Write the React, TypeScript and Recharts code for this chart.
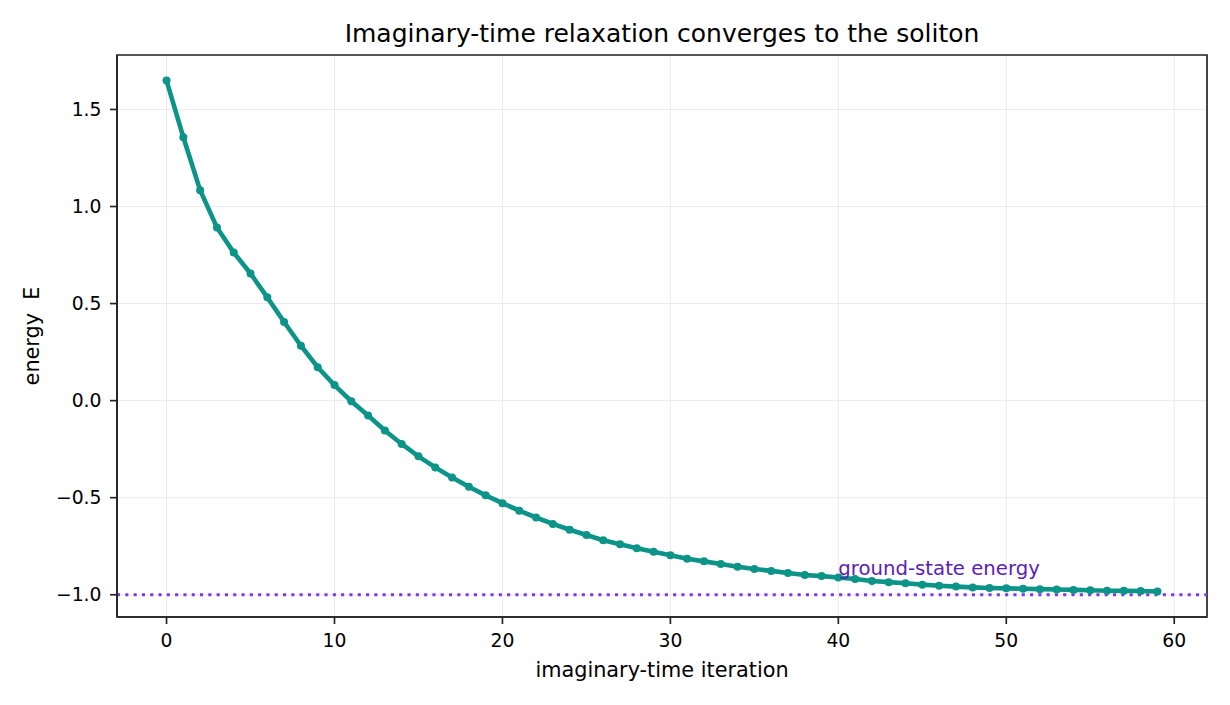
import React from 'react';
import {
  ComposedChart,
  Line,
  XAxis,
  YAxis,
  CartesianGrid,
  ReferenceLine,
  ReferenceDot,
  ReferenceArea,
} from 'recharts';

const iterations = Array.from({ length: 60 }, (_, i) => i);

// energy, one value per iteration
const energies = [
  1.649, 1.357, 1.084, 0.892, 0.763, 0.655, 0.532, 0.405, 0.283, 0.172,
  0.08, -0.003, -0.077, -0.154, -0.223, -0.287, -0.344, -0.396, -0.444, -0.488,
  -0.528, -0.567, -0.602, -0.635, -0.665, -0.692, -0.719, -0.74, -0.76, -0.779,
  -0.797, -0.814, -0.828, -0.842, -0.856, -0.867, -0.877, -0.888, -0.898, -0.904,
  -0.911, -0.919, -0.929, -0.935, -0.941, -0.948, -0.954, -0.958, -0.962, -0.965,
  -0.967, -0.969, -0.971, -0.973, -0.975, -0.977, -0.979, -0.98, -0.981, -0.983,
];

const groundEnergy = -1.0;
const xTicks = [0, 10, 20, 30, 40, 50, 60];
const yTicks = [-1.0, -0.5, 0.0, 0.5, 1.0, 1.5];
const xDomain: [number, number] = [-2.95, 61.95];
const yDomain: [number, number] = [-1.1146, 1.7806];

const data = iterations.map((it, i) => ({ iter: it, energy: energies[i] }));

const FONT = '"DejaVu Sans", sans-serif';
const TEAL = '#0d9488';
const SPINE = '#222222';

const fmtY = (v: number) => (v < 0 ? '\u2212' + Math.abs(v).toFixed(1) : v.toFixed(1));

export default function App() {
  return (
    <div style={{ position: 'absolute', left: 0, top: 0, width: 1230, height: 705, background: '#fff' }}>
      <ComposedChart
        width={1230}
        height={705}
        data={data}
        margin={{ top: 55, right: 23, bottom: 0, left: 0 }}
      >
        <CartesianGrid stroke="#ebebeb" strokeWidth={1} />
        <XAxis
          dataKey="iter"
          type="number"
          domain={xDomain}
          ticks={xTicks}
          allowDataOverflow
          height={88}
          tickSize={7}
          tickMargin={10}
          axisLine={{ stroke: SPINE, strokeWidth: 1.67 }}
          tickLine={{ stroke: SPINE, strokeWidth: 1.67 }}
          tick={{ fill: '#000', fontSize: 18.75, fontFamily: FONT }}
        />
        <YAxis
          type="number"
          domain={yDomain}
          ticks={yTicks}
          allowDataOverflow
          width={117}
          tickSize={7}
          tickMargin={8.5}
          tickFormatter={fmtY}
          axisLine={{ stroke: SPINE, strokeWidth: 1.67 }}
          tickLine={{ stroke: SPINE, strokeWidth: 1.67 }}
          tick={{ fill: '#000', fontSize: 18.75, fontFamily: FONT }}
        />
        <ReferenceLine
          y={groundEnergy}
          stroke="#7c3aed"
          strokeWidth={3.1}
          strokeDasharray="3.1 5.2"
        />
        <Line
          type="linear"
          dataKey="energy"
          stroke={TEAL}
          strokeWidth={4.6}
          dot={{ r: 4, fill: TEAL, stroke: 'none' }}
          isAnimationActive={false}
        />
        <ReferenceDot
          x={40}
          y={-0.9}
          r={0}
          shape={(p: any) => (
            <text x={p.cx} y={p.cy} fill="#5b21b6" fontSize={19.7} fontFamily={FONT}>
              ground-state energy
            </text>
          )}
        />
        <ReferenceArea
          x1={xDomain[0]}
          x2={xDomain[1]}
          y1={yDomain[0]}
          y2={yDomain[1]}
          fill="none"
          fillOpacity={0}
          stroke={SPINE}
          strokeWidth={1.67}
        />
      </ComposedChart>
      <svg
        width={1230}
        height={705}
        style={{ position: 'absolute', left: 0, top: 0, pointerEvents: 'none' }}
      >
        <text x={662} y={42} textAnchor="middle" fontSize={25} fontFamily={FONT} fill="#000">
          Imaginary-time relaxation converges to the soliton
        </text>
        <text x={662} y={677} textAnchor="middle" fontSize={20.8} fontFamily={FONT} fill="#000">
          imaginary-time iteration
        </text>
        <text
          x={0}
          y={0}
          transform="translate(38.5 336) rotate(-90)"
          textAnchor="middle"
          fontSize={20.8}
          fontFamily={FONT}
          fill="#000"
          style={{ whiteSpace: 'pre' }}
        >
          energy  E
        </text>
      </svg>
    </div>
  );
}
